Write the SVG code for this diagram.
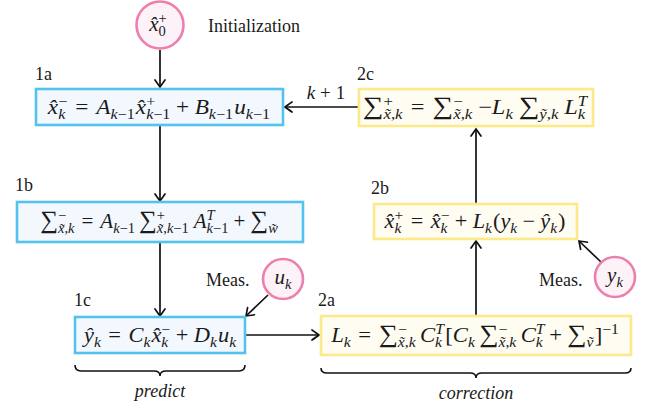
<svg xmlns="http://www.w3.org/2000/svg" width="654" height="413" viewBox="0 0 654 413" font-family="Liberation Serif, serif">
<style>
.eqn{font-size:21px;fill:#1a1a1a}
.ital{font-style:italic}
.scr{font-size:14.5px}
.big{font-size:25px}
.lbl{font-size:18px;fill:#1a1a1a}
.bb{fill:#f3f8ff;stroke:#55c2ee;stroke-width:2.6}
.yb{fill:#fffcf2;stroke:#fbe98a;stroke-width:2.6}
.circ{fill:#fdf2f7;stroke:#ec7fae;stroke-width:2.6}
.edge{fill:none;stroke:#111;stroke-width:1.7}
.brace{fill:none;stroke:#111;stroke-width:1.6}
</style>
<defs>
<marker id="ah" viewBox="-8 -6 10 12" markerWidth="10" markerHeight="12" refX="0" refY="0" orient="auto" markerUnits="userSpaceOnUse">
<path d="M-7,-5 Q-2,-1.5 0,0 Q-2,1.5 -7,5" fill="none" stroke="#111" stroke-width="1.7" stroke-linecap="round"/>
</marker>
</defs>

<g id="connectors">
<line class="edge" x1="160" y1="50" x2="160" y2="87" marker-end="url(#ah)"/>
<line class="edge" x1="160" y1="126" x2="160" y2="201" marker-end="url(#ah)"/>
<line class="edge" x1="160" y1="243" x2="160" y2="316" marker-end="url(#ah)"/>
<line class="edge" x1="268" y1="295" x2="246" y2="316" marker-end="url(#ah)"/>
<line class="edge" x1="246" y1="335" x2="319" y2="335" marker-end="url(#ah)"/>
<line class="edge" x1="476" y1="315" x2="476" y2="241" marker-end="url(#ah)"/>
<line class="edge" x1="476" y1="203" x2="476" y2="129" marker-end="url(#ah)"/>
<line class="edge" x1="601" y1="262" x2="579" y2="241" marker-end="url(#ah)"/>
<line class="edge" x1="358" y1="107" x2="285" y2="107" marker-end="url(#ah)"/>
<text font-family="Liberation Serif" font-size="19" fill="#1a1a1a" x="326" y="99" text-anchor="middle"><tspan font-style="italic">k</tspan><tspan dx="5">+</tspan><tspan dx="5">1</tspan></text>
</g>

<g id="init">
<circle class="circ" cx="160" cy="25" r="23.5"/>
<text class="eqn" font-family="Liberation Serif" x="158" y="31" text-anchor="middle"><tspan class="ital">x̂</tspan><tspan class="scr" baseline-shift="8">+</tspan><tspan class="scr" dx="-8.2" baseline-shift="-5">0</tspan></text>
<text class="lbl" x="208" y="32">Initialization</text>
</g>

<g id="n1a">
<text class="lbl" x="35" y="80">1a</text>
<rect class="bb" x="36" y="89" width="247" height="36"/>
<text class="eqn" font-family="Liberation Serif" x="159" y="114" text-anchor="middle" transform="matrix(1.11 0 0 1 -17.5 0)"><tspan class="ital">x̂</tspan><tspan class="scr" baseline-shift="8">−</tspan><tspan class="scr ital" dx="-8.2" baseline-shift="-5">k</tspan><tspan dx="9">=</tspan><tspan class="ital" dx="7">A</tspan><tspan class="scr" baseline-shift="-5"><tspan class="ital">k</tspan>−1</tspan><tspan class="ital" dx="1">x̂</tspan><tspan class="scr" baseline-shift="8">+</tspan><tspan class="scr" dx="-8.2" baseline-shift="-5"><tspan class="ital">k</tspan>−1</tspan><tspan dx="5">+</tspan><tspan class="ital" dx="5">B</tspan><tspan class="scr" baseline-shift="-5"><tspan class="ital">k</tspan>−1</tspan><tspan class="ital" dx="1">u</tspan><tspan class="scr" baseline-shift="-5"><tspan class="ital">k</tspan>−1</tspan></text>
</g>

<g id="n2c">
<text class="lbl" x="357" y="80">2c</text>
<rect class="yb" x="359" y="89" width="234" height="37"/>
<text class="eqn" font-family="Liberation Serif" x="475" y="114" text-anchor="middle" transform="matrix(1.16 0 0 1 -76 0)"><tspan class="big">∑</tspan><tspan class="scr" baseline-shift="8">+</tspan><tspan class="scr" dx="-8.2" baseline-shift="-5"><tspan class="ital">x̃</tspan>,<tspan class="ital">k</tspan></tspan><tspan dx="7">=</tspan><tspan class="big" dx="7">∑</tspan><tspan class="scr" baseline-shift="8">−</tspan><tspan class="scr" dx="-8.2" baseline-shift="-5"><tspan class="ital">x̃</tspan>,<tspan class="ital">k</tspan></tspan><tspan dx="5">−</tspan><tspan class="ital">L</tspan><tspan class="scr ital" baseline-shift="-5">k</tspan><tspan class="big" dx="5">∑</tspan><tspan class="scr" baseline-shift="-5"><tspan class="ital">ỹ</tspan>,<tspan class="ital">k</tspan></tspan><tspan class="ital" dx="5">L</tspan><tspan class="scr ital" baseline-shift="8">T</tspan><tspan class="scr ital" dx="-8.1" baseline-shift="-5">k</tspan></text>
</g>

<g id="n1b">
<text class="lbl" x="15" y="191">1b</text>
<rect class="bb" x="17" y="202" width="286" height="40"/>
<text class="eqn" font-family="Liberation Serif" x="159" y="228" text-anchor="middle"><tspan class="big">∑</tspan><tspan class="scr" baseline-shift="8">−</tspan><tspan class="scr" dx="-8.2" baseline-shift="-5"><tspan class="ital">x̃</tspan>,<tspan class="ital">k</tspan></tspan><tspan dx="7">=</tspan><tspan class="ital" dx="7">A</tspan><tspan class="scr" baseline-shift="-5"><tspan class="ital">k</tspan>−1</tspan><tspan class="big" dx="4">∑</tspan><tspan class="scr" baseline-shift="8">+</tspan><tspan class="scr" dx="-8.2" baseline-shift="-5"><tspan class="ital">x̃</tspan>,<tspan class="ital">k</tspan>−1</tspan><tspan class="ital" dx="5">A</tspan><tspan class="scr ital" baseline-shift="8">T</tspan><tspan class="scr" dx="-8.1" baseline-shift="-5"><tspan class="ital">k</tspan>−1</tspan><tspan dx="5">+</tspan><tspan class="big" dx="5">∑</tspan><tspan class="scr ital" baseline-shift="-5">w̃</tspan></text>
</g>

<g id="n1c">
<text class="lbl" x="74" y="306">1c</text>
<rect class="bb" x="75" y="317" width="170" height="36"/>
<text class="eqn" font-family="Liberation Serif" x="160" y="342" text-anchor="middle" transform="matrix(1.07 0 0 1 -11.2 0)"><tspan class="ital">ŷ</tspan><tspan class="scr ital" baseline-shift="-5">k</tspan><tspan dx="7">=</tspan><tspan class="ital" dx="7">C</tspan><tspan class="scr ital" baseline-shift="-5">k</tspan><tspan class="ital" dx="1">x̂</tspan><tspan class="scr" baseline-shift="8">−</tspan><tspan class="scr ital" dx="-8.2" baseline-shift="-5">k</tspan><tspan dx="7">+</tspan><tspan class="ital" dx="5">D</tspan><tspan class="scr ital" baseline-shift="-5">k</tspan><tspan class="ital" dx="1">u</tspan><tspan class="scr ital" baseline-shift="-5">k</tspan></text>
</g>

<g id="meas_u">
<circle class="circ" cx="283" cy="279" r="20"/>
<text class="eqn" font-family="Liberation Serif" x="283" y="284" text-anchor="middle"><tspan class="ital">u</tspan><tspan class="scr ital" baseline-shift="-5">k</tspan></text>
<text class="lbl" x="206" y="286">Meas.</text>
</g>

<g id="n2a">
<text class="lbl" x="318" y="306">2a</text>
<rect class="yb" x="321" y="316" width="310" height="39"/>
<text class="eqn" font-family="Liberation Serif" x="475" y="342" text-anchor="middle" transform="matrix(1.08 0 0 1 -38 0)"><tspan class="ital">L</tspan><tspan class="scr ital" baseline-shift="-5">k</tspan><tspan dx="7">=</tspan><tspan class="big" dx="7">∑</tspan><tspan class="scr" baseline-shift="8">−</tspan><tspan class="scr" dx="-8.2" baseline-shift="-5"><tspan class="ital">x̃</tspan>,<tspan class="ital">k</tspan></tspan><tspan class="ital" dx="4">C</tspan><tspan class="scr ital" baseline-shift="8">T</tspan><tspan class="scr ital" dx="-8.1" baseline-shift="-5">k</tspan><tspan dx="3">[</tspan><tspan class="ital">C</tspan><tspan class="scr ital" baseline-shift="-5">k</tspan><tspan class="big" dx="4">∑</tspan><tspan class="scr" baseline-shift="8">−</tspan><tspan class="scr" dx="-8.2" baseline-shift="-5"><tspan class="ital">x̃</tspan>,<tspan class="ital">k</tspan></tspan><tspan class="ital" dx="4">C</tspan><tspan class="scr ital" baseline-shift="8">T</tspan><tspan class="scr ital" dx="-8.1" baseline-shift="-5">k</tspan><tspan dx="6">+</tspan><tspan class="big" dx="5">∑</tspan><tspan class="scr ital" baseline-shift="-5">ṽ</tspan><tspan dx="1">]</tspan><tspan class="scr" baseline-shift="8">−1</tspan></text>
</g>

<g id="n2b">
<text class="lbl" x="371" y="194">2b</text>
<rect class="yb" x="374" y="204" width="203" height="35"/>
<text class="eqn" font-family="Liberation Serif" x="475" y="228" text-anchor="middle" transform="matrix(1.06 0 0 1 -28.5 0)"><tspan class="ital">x̂</tspan><tspan class="scr" baseline-shift="8">+</tspan><tspan class="scr ital" dx="-8.2" baseline-shift="-5">k</tspan><tspan dx="9">=</tspan><tspan class="ital" dx="7">x̂</tspan><tspan class="scr" baseline-shift="8">−</tspan><tspan class="scr ital" dx="-8.2" baseline-shift="-5">k</tspan><tspan dx="7">+</tspan><tspan class="ital" dx="5">L</tspan><tspan class="scr ital" baseline-shift="-5">k</tspan><tspan dx="1">(</tspan><tspan class="ital">y</tspan><tspan class="scr ital" baseline-shift="-5">k</tspan><tspan dx="5">−</tspan><tspan class="ital" dx="5">ŷ</tspan><tspan class="scr ital" baseline-shift="-5">k</tspan><tspan dx="1">)</tspan></text>
</g>

<g id="meas_y">
<circle class="circ" cx="615" cy="277" r="20"/>
<text class="eqn" font-family="Liberation Serif" x="615" y="282" text-anchor="middle"><tspan class="ital">y</tspan><tspan class="scr ital" baseline-shift="-5">k</tspan></text>
<text class="lbl" x="539" y="286">Meas.</text>
</g>

<g id="predict">
<path class="brace" d="M75,365 Q75,371 81,371 H154 Q160,371 160,376 Q160,371 166,371 H239 Q245,371 245,365"/>
<text class="lbl ital" x="160" y="397" text-anchor="middle">predict</text>
</g>

<g id="correction">
<path class="brace" d="M321,368 Q321,373 327,373 H470 Q476,373 476,378 Q476,373 482,373 H625 Q631,373 631,368"/>
<text class="lbl ital" x="476" y="399" text-anchor="middle">correction</text>
</g>
</svg>
